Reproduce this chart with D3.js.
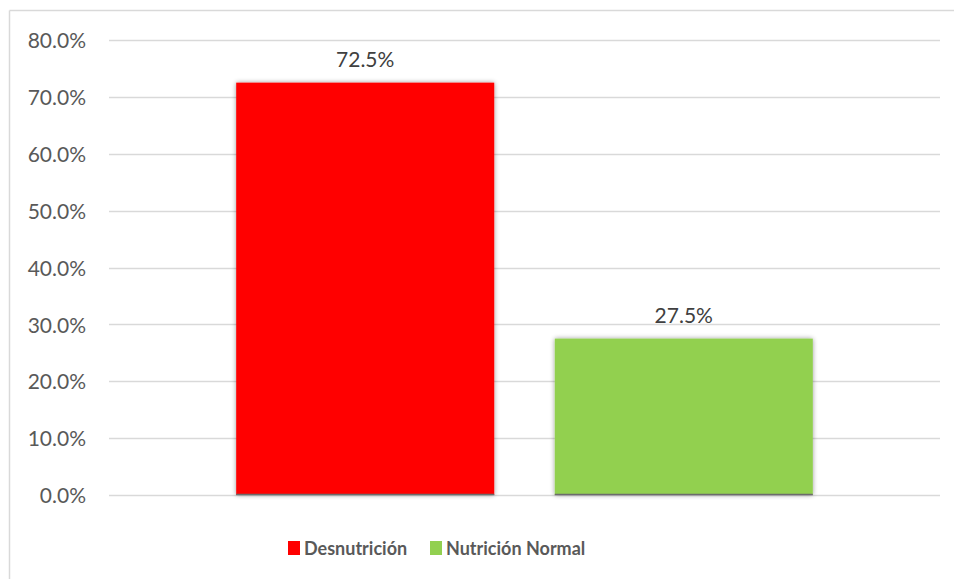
<!DOCTYPE html>
<html>
<head>
<meta charset="utf-8">
<script src="https://cdn.jsdelivr.net/npm/d3@7"></script>
<style>
  html, body { margin: 0; padding: 0; background: #fff; }
  svg { display: block; }
</style>
</head>
<body>
<svg id="chart" width="954" height="579"></svg>
<script>
const seriesNames = ["Desnutrición", "Nutrición Normal"];
const seriesValues = [72.5, 27.5];
const seriesColors = ["#FF0000", "#92D050"];
const yTicks = [0, 10, 20, 30, 40, 50, 60, 70, 80];

const svg = d3.select("#chart");
const W = 954, H = 579;
const plot = { left: 109, right: 940, top: 40, bottom: 495 };
const font = "Lato, 'Open Sans', sans-serif";

// outer border (top and left visible)
svg.append("line").attr("x1", 9.5).attr("x2", W).attr("y1", 10.5).attr("y2", 10.5)
  .attr("stroke", "#d9d9d9").attr("stroke-width", 1.5);
svg.append("line").attr("x1", 9.5).attr("x2", 9.5).attr("y1", 10.5).attr("y2", H)
  .attr("stroke", "#d9d9d9").attr("stroke-width", 1.5);

const y = d3.scaleLinear().domain([0, 80]).range([plot.bottom, plot.top]);
const x = d3.scaleBand().domain(seriesNames).range([plot.left + 38, plot.right - 38])
  .paddingInner(0.19).paddingOuter(0.28);

// gridlines
svg.append("g").selectAll("line").data(yTicks).join("line")
  .attr("x1", plot.left).attr("x2", plot.right)
  .attr("y1", d => Math.round(y(d)) + 0.5).attr("y2", d => Math.round(y(d)) + 0.5)
  .attr("stroke", "#d9d9d9").attr("stroke-width", 1.3);

// y axis labels
const yAxis = d3.axisLeft(y).tickValues(yTicks).tickFormat(d => d.toFixed(1) + "%").tickSize(0).tickPadding(0);
const gy = svg.append("g").attr("transform", `translate(${plot.left - 23},1)`).call(yAxis);
gy.select(".domain").remove();
gy.selectAll("text").attr("font-family", font).attr("font-size", 21).attr("fill", "#595959");

// shadow filter
const defs = svg.append("defs");
const f = defs.append("filter").attr("id", "shadow").attr("x", "-10%").attr("y", "-10%").attr("width", "120%").attr("height", "120%");
f.append("feGaussianBlur").attr("in", "SourceAlpha").attr("stdDeviation", 2.4).attr("result", "blur");
f.append("feComponentTransfer").attr("in", "blur").attr("result", "soft")
  .append("feFuncA").attr("type", "linear").attr("slope", 0.4);
const m = f.append("feMerge");
m.append("feMergeNode").attr("in", "soft");
m.append("feMergeNode").attr("in", "SourceGraphic");

const data = seriesNames.map((n, i) => ({ name: n, value: seriesValues[i], color: seriesColors[i] }));

const bars = svg.append("g");
bars.selectAll("rect").data(data).join("rect")
  .attr("x", d => x(d.name)).attr("width", x.bandwidth())
  .attr("y", d => y(d.value)).attr("height", d => y(0) - y(d.value))
  .attr("fill", d => d.color).attr("filter", "url(#shadow)");
// dark bottom edge
bars.selectAll("line").data(data).join("line")
  .attr("x1", d => x(d.name)).attr("x2", d => x(d.name) + x.bandwidth())
  .attr("y1", y(0) - 0.5).attr("y2", y(0) - 0.5)
  .attr("stroke", "#6b6b6b").attr("stroke-width", 1.5);

// value labels
svg.append("g").selectAll("text").data(data).join("text")
  .attr("x", d => x(d.name) + x.bandwidth() / 2)
  .attr("y", d => y(d.value) - 16)
  .attr("text-anchor", "middle")
  .attr("font-family", font).attr("font-size", 21).attr("fill", "#404040")
  .text(d => d.value.toFixed(1) + "%");

// legend
const legendItems = [{ x: 288 }, { x: 430 }];
const lg = svg.append("g");
data.forEach((d, i) => {
  const g = lg.append("g").attr("transform", `translate(${legendItems[i].x},541)`);
  g.append("rect").attr("width", 12).attr("height", 14).attr("fill", d.color);
  g.append("text").attr("x", 16).attr("y", 14)
    .attr("font-family", font).attr("font-weight", "bold").attr("font-size", 18)
    .attr("fill", "#595959").text(d.name);
});
</script>
</body>
</html>
